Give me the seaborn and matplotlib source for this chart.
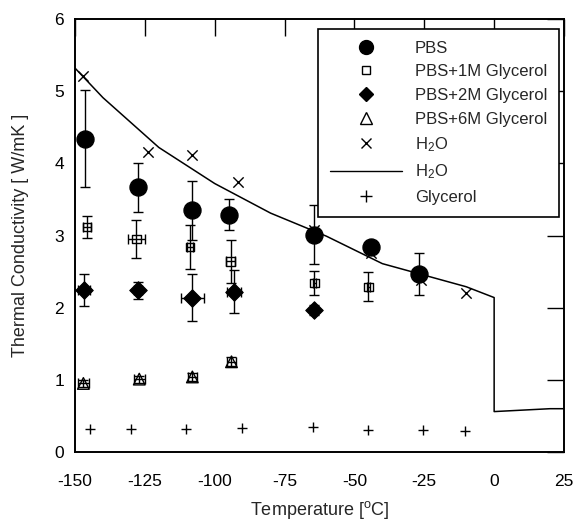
import numpy as np
import pandas as pd
import seaborn as sns
import matplotlib.pyplot as plt
from matplotlib.lines import Line2D

# Data
pbs_t = [-146.4, -127.4, -108.1, -94.9, -64.3, -44.0, -26.8]
pbs_k = [4.34, 3.67, 3.35, 3.29, 3.01, 2.84, 2.47]
pbs_kerr = [0.67, 0.34, 0.41, 0.22, 0.41, 0.05, 0.29]
pbs_terr = [0.0, 1.5, 0.0, 0.0, 0.0, 0.0, 0.0]

g1_t = [-145.8, -128.0, -108.9, -94.3, -64.3, -45.0]
g1_k = [3.12, 2.95, 2.84, 2.64, 2.34, 2.29]
g1_kerr = [0.15, 0.26, 0.30, 0.30, 0.17, 0.20]
g1_terr = [1.5, 3.0, 1.0, 1.5, 0.5, 0.5]

g2_t = [-146.8, -127.4, -108.0, -93.2, -64.3]
g2_k = [2.25, 2.24, 2.14, 2.22, 1.97]
g2_kerr = [0.22, 0.12, 0.33, 0.30, 0.07]
g2_terr = [2.0, 1.5, 4.0, 2.5, 1.0]

g6_t = [-147.0, -127.0, -108.0, -94.0]
g6_k = [0.95, 1.01, 1.04, 1.25]
g6_kerr = [0.05, 0.05, 0.06, 0.06]
g6_terr = [2.0, 2.0, 1.5, 1.5]

h2o_t = [-147.0, -124.0, -108.2, -91.7, -64.3, -44.0, -26.2, -10.1]
h2o_k = [5.21, 4.16, 4.12, 3.74, 3.08, 2.76, 2.39, 2.20]

h2o_line_t = [-150, -140, -120, -100, -80, -60, -40, -10, 0, 0, 20, 25]
h2o_line_k = [5.32, 4.91, 4.22, 3.72, 3.31, 2.99, 2.61, 2.29, 2.14, 0.56, 0.60, 0.60]

gly_t = [-144.6, -129.8, -110.1, -90.1, -64.9, -45.0, -25.4, -10.4]
gly_k = [0.32, 0.32, 0.32, 0.33, 0.35, 0.31, 0.30, 0.29]

sns.set_style("white")
plt.rcParams['font.family'] = ['Liberation Sans', 'DejaVu Sans']
plt.rcParams['mathtext.default'] = 'regular'
plt.rcParams['axes.unicode_minus'] = False

fig = plt.figure(figsize=(5.77, 5.25), dpi=100)
ax = fig.add_axes([75 / 577, 73 / 525, 489 / 577, 433 / 525])

# error bars first, markers on top
ebkw = dict(fmt='none', ecolor='black', elinewidth=1.0, capsize=3.5, capthick=1.0)
ax.errorbar(pbs_t, pbs_k, yerr=pbs_kerr, xerr=pbs_terr, **ebkw)
ax.errorbar(g1_t, g1_k, yerr=g1_kerr, xerr=g1_terr, **ebkw)
ax.errorbar(g2_t, g2_k, yerr=g2_kerr, xerr=g2_terr, **ebkw)
ax.errorbar(g6_t, g6_k, yerr=g6_kerr, xerr=g6_terr, **ebkw)

sns.lineplot(x=h2o_line_t, y=h2o_line_k, sort=False, estimator=None, errorbar=None,
             color='black', linewidth=1.1, ax=ax)

sns.scatterplot(x=pbs_t, y=pbs_k, marker='o', s=150, color='black', edgecolor='black', ax=ax, zorder=3)
sns.scatterplot(x=g1_t, y=g1_k, marker='s', s=36, facecolor='none', edgecolor='black', linewidth=1.0, ax=ax, zorder=3)
sns.scatterplot(x=g2_t, y=g2_k, marker='D', s=80, color='black', edgecolor='black', ax=ax, zorder=3)
sns.scatterplot(x=g6_t, y=g6_k, marker='^', s=70, facecolor='none', edgecolor='black', linewidth=1.0, ax=ax, zorder=3)
sns.scatterplot(x=h2o_t, y=h2o_k, marker='x', s=55, color='black', linewidth=1.0, ax=ax, zorder=3)
sns.scatterplot(x=gly_t, y=gly_k, marker='+', s=60, color='black', linewidth=1.0, ax=ax, zorder=3)

ax.set_xlim(-150, 25)
ax.set_ylim(0, 6)
ax.set_xticks(np.arange(-150, 26, 25))
ax.set_yticks(np.arange(0, 7, 1))
ax.tick_params(direction='in', length=12, width=1.0, top=True, right=True,
               labelsize=12.5, colors='black', pad=8)
ax.tick_params(axis='x', pad=16)
for sp in ax.spines.values():
    sp.set_color('black')
    sp.set_linewidth(1.4)

ax.set_xlabel('Temperature [$^{o}$C]', fontsize=13, labelpad=7)
ax.set_ylabel('Thermal Conductivity [ W/mK ]', fontsize=13, labelpad=18)

handles = [
    Line2D([], [], marker='o', ls='none', color='black', markersize=10),
    Line2D([], [], marker='s', ls='none', mfc='none', mec='black', markersize=6),
    Line2D([], [], marker='D', ls='none', color='black', markersize=7.5),
    Line2D([], [], marker='^', ls='none', mfc='none', mec='black', markersize=9),
    Line2D([], [], marker='x', ls='none', color='black', markersize=7),
    Line2D([], [], color='black', linewidth=1.0),
    Line2D([], [], marker='+', ls='none', color='black', markersize=8),
]
labels = ['PBS', 'PBS+1M Glycerol', 'PBS+2M Glycerol', 'PBS+6M Glycerol',
          'H$_2$O', 'H$_2$O', 'Glycerol']
leg = ax.legend(handles, labels, loc='upper right', bbox_to_anchor=(0.99, 0.977),
                borderaxespad=0, fontsize=12, frameon=True, fancybox=False,
                edgecolor='black', framealpha=1, handlelength=4.3,
                handletextpad=0.8, borderpad=0.7, labelspacing=0.52)
leg.get_frame().set_linewidth(1.2)

plt.savefig('out.png', dpi=100)
